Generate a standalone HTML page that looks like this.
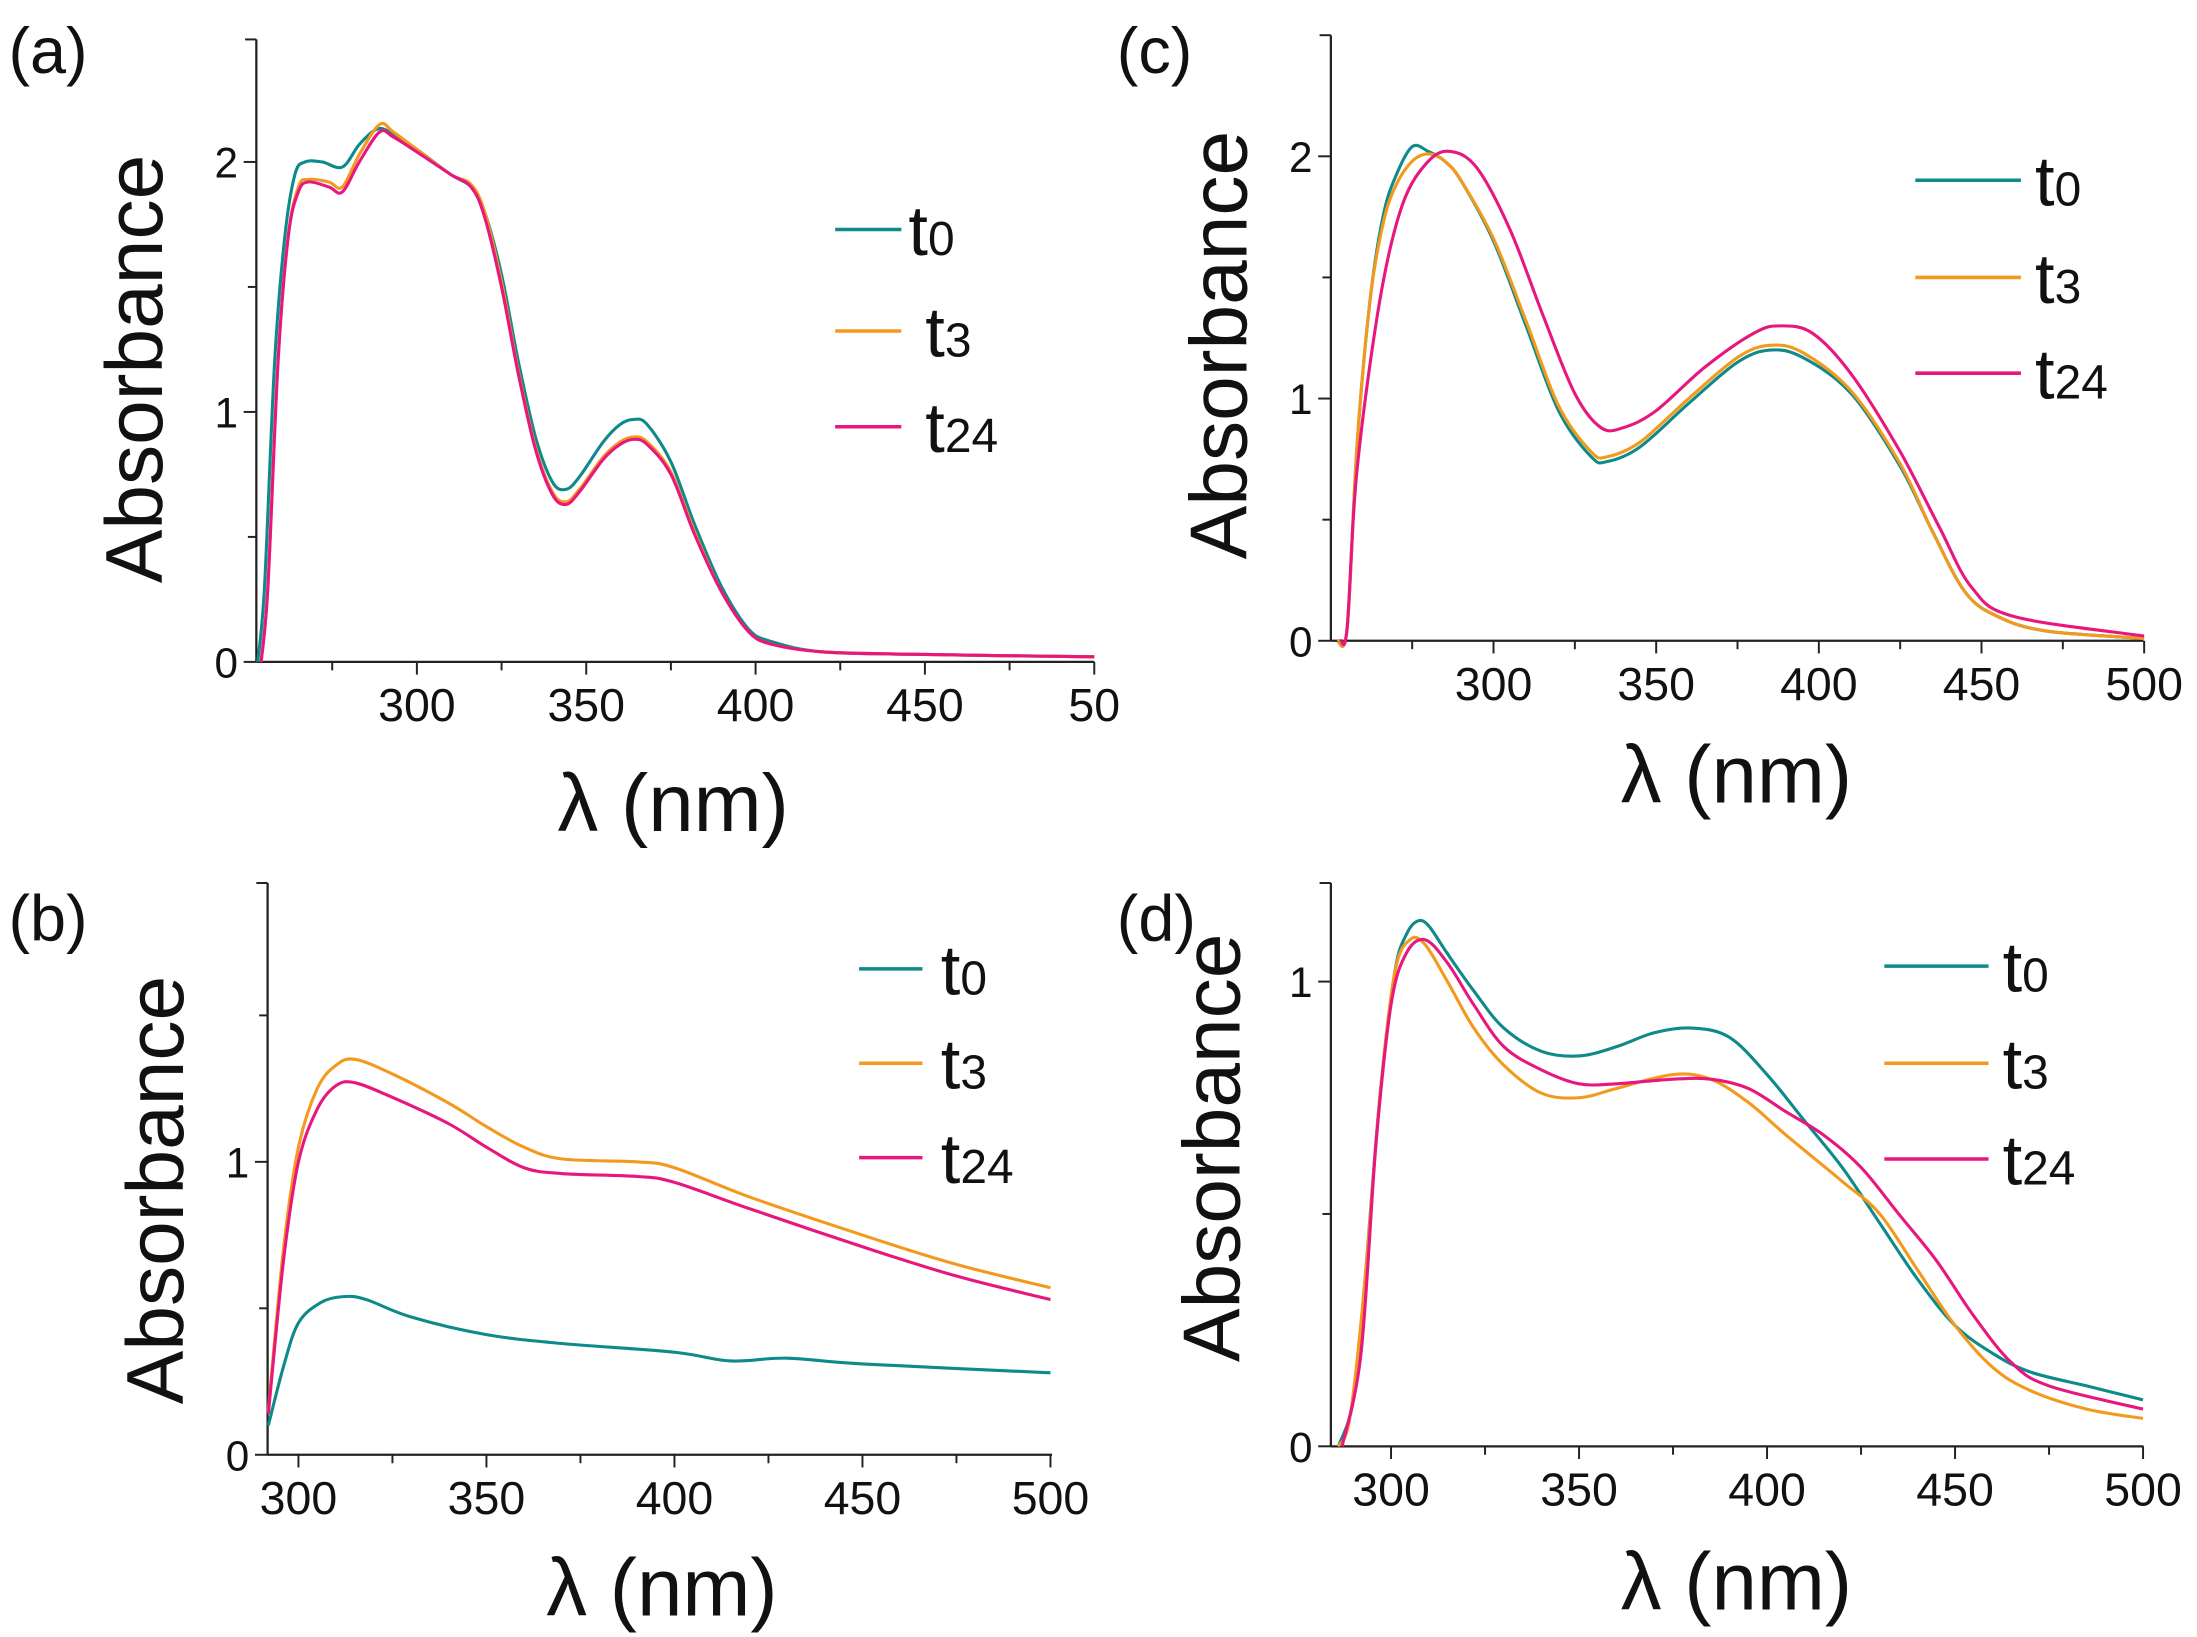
<!DOCTYPE html>
<html><head><meta charset="utf-8">
<style>html,body{margin:0;padding:0;background:#fff}svg{display:block}text{font-family:"Liberation Sans",Arial,sans-serif;fill:#111}</style>
</head><body>
<svg id="s" width="2197" height="1637" viewBox="0 0 1560 1162.4" xmlns="http://www.w3.org/2000/svg"></svg>
<script>
const S=document.getElementById('s');let h='';
const C={t0:'#0e8a8a',t3:'#f39a1e',t24:'#e8177e'};
function panel(p){
 const X=v=>p.ax+(v-p.x0)*p.kx, Y=v=>p.y0-v*p.ky;
 h+=`<line x1="${p.ax}" y1="${p.top}" x2="${p.ax}" y2="${p.y0}" stroke="#222" stroke-width="1.6"/>`;
 h+=`<line x1="${p.ax}" y1="${p.y0}" x2="${p.axr}" y2="${p.y0}" stroke="#222" stroke-width="1.6"/>`;
 for(let v=p.xt0;v<=500;v+=25){const x=X(v);if(x<p.ax+1)continue;const maj=v%50==0;
  h+=`<line x1="${x}" y1="${p.y0}" x2="${x}" y2="${p.y0+(maj?9:6)}" stroke="#222" stroke-width="1.4"/>`;
  if(maj)h+=`<text x="${x}" y="${p.y0+42}" font-size="33" text-anchor="middle">${p.lab500&&v==500?p.lab500:v}</text>`;}
 for(let v=0;v<=p.ymax;v+=0.5){const y=Y(v);if(y<p.top-1)continue;const maj=v%1==0;
  h+=`<line x1="${p.ax}" y1="${y}" x2="${p.ax-(maj?9:6)}" y2="${y}" stroke="#222" stroke-width="1.4"/>`;
  if(maj)h+=`<text x="${p.ax-13}" y="${y+11}" font-size="30" text-anchor="end">${v}</text>`;}
 h+=`<line x1="${p.ax}" y1="${p.top}" x2="${p.ax-8}" y2="${p.top}" stroke="#222" stroke-width="1.4"/>`;
 for(const k of ['t0','t3','t24']){const P=p.d[k].map(([a,b])=>[X(a),Y(b)]);
  let s=`M${P[0][0].toFixed(1)},${P[0][1].toFixed(1)}`;
  for(let i=0;i<P.length-1;i++){const p0=P[Math.max(0,i-1)],p1=P[i],p2=P[i+1],p3=P[Math.min(P.length-1,i+2)];
   const c1=[p1[0]+(p2[0]-p0[0])/6,p1[1]+(p2[1]-p0[1])/6],c2=[p2[0]-(p3[0]-p1[0])/6,p2[1]-(p3[1]-p1[1])/6];
   s+=` C${c1[0].toFixed(1)},${c1[1].toFixed(1)} ${c2[0].toFixed(1)},${c2[1].toFixed(1)} ${p2[0].toFixed(1)},${p2[1].toFixed(1)}`;}
  h+=`<path d="${s}" fill="none" stroke="${C[k]}" stroke-width="2.2" stroke-linejoin="round"/>`;}
 p.leg.forEach((y,i)=>{const k=['t0','t3','t24'][i];
  h+=`<line x1="${p.lx1}" y1="${y}" x2="${p.lx2}" y2="${y}" stroke="${C[k]}" stroke-width="2.5"/>`;
  h+=`<text x="${p.ltx+(i==0?0:p.loff||0)}" y="${y+18}" font-size="50">t<tspan font-size="34">${k.slice(1)}</tspan></text>`;});
 h+=`<text x="${p.tx}" y="${p.ty}" font-size="58" text-anchor="middle">λ (nm)</text>`;
 h+=`<text transform="translate(${p.ayx},${p.ayy}) rotate(-90)" font-size="57" text-anchor="middle">Absorbance</text>`;
 h+=`<text x="${p.px}" y="${p.py}" font-size="46">${p.name}</text>`;
}
panel({name:'(a)',px:6,py:52,ax:182,axr:777,top:28,y0:470,x0:252.6,kx:2.405,ky:177.5,ymax:2.5,xt0:275,lab500:'50',
 tx:478,ty:590,ayx:115,ayy:262,lx1:593,lx2:640,ltx:645,loff:12,leg:[163,235,303],
 d:{t0:[[253,0],[255,0.3],[258,1.2],[261,1.7],[264,1.95],[267,2.0],[272,2.0],[278,1.98],[283,2.07],[288,2.13],[292,2.12],[300,2.05],[310,1.95],[316,1.9],[320,1.8],[325,1.55],[330,1.2],[335,0.9],[340,0.72],[344,0.69],[348,0.74],[355,0.88],[360,0.95],[364,0.97],[368,0.95],[375,0.8],[382,0.55],[390,0.3],[398,0.13],[405,0.08],[420,0.04],[450,0.03],[500,0.02]],
 t3:[[254,0],[256,0.3],[259,1.2],[262,1.7],[265,1.9],[268,1.93],[274,1.92],[278,1.9],[283,2.03],[289,2.15],[293,2.12],[300,2.05],[310,1.95],[316,1.91],[320,1.8],[325,1.52],[330,1.16],[335,0.86],[340,0.68],[344,0.64],[348,0.69],[355,0.82],[360,0.88],[364,0.9],[368,0.88],[375,0.76],[382,0.52],[390,0.28],[398,0.12],[405,0.07],[420,0.04],[450,0.03],[500,0.02]],
 t24:[[254,0],[256,0.3],[259,1.2],[262,1.7],[265,1.88],[268,1.92],[274,1.9],[278,1.88],[283,2.0],[289,2.12],[293,2.1],[300,2.04],[310,1.95],[316,1.9],[320,1.78],[325,1.5],[330,1.15],[335,0.85],[340,0.67],[344,0.63],[348,0.68],[355,0.81],[360,0.87],[364,0.89],[368,0.87],[375,0.75],[382,0.51],[390,0.28],[398,0.12],[405,0.07],[420,0.04],[450,0.03],[500,0.02]]}});
panel({name:'(b)',px:6,py:668,ax:190,axr:747,top:627,y0:1033,x0:291.8,kx:2.67,ky:208,ymax:1.9,xt0:300,
 tx:470,ty:1147,ayx:130,ayy:845,lx1:610,lx2:655,ltx:668,leg:[688,755,822],
 d:{t3:[[292,0.15],[296,0.7],[300,1.05],[305,1.25],[310,1.33],[315,1.35],[325,1.3],[340,1.2],[350,1.12],[360,1.05],[370,1.01],[390,1.0],[400,0.98],[420,0.88],[450,0.75],[475,0.65],[500,0.57]],
 t24:[[292,0.14],[296,0.66],[300,1.0],[305,1.18],[310,1.26],[315,1.27],[325,1.22],[340,1.13],[350,1.05],[360,0.98],[370,0.96],[390,0.95],[400,0.93],[420,0.84],[450,0.71],[475,0.61],[500,0.53]],
 t0:[[292,0.1],[296,0.3],[300,0.45],[306,0.52],[312,0.54],[318,0.53],[330,0.47],[350,0.41],[370,0.38],[400,0.35],[415,0.32],[430,0.33],[450,0.31],[500,0.28]]}});
panel({name:'(c)',px:793,py:52,ax:945,axr:1522,top:25,y0:455,x0:250,kx:2.31,ky:172,ymax:2.4,xt0:250,
 tx:1233,ty:570,ayx:885,ayy:245,lx1:1360,lx2:1435,ltx:1445,leg:[128,197,265],
 d:{t0:[[252,0],[255,0.05],[258,0.8],[262,1.4],[266,1.75],[270,1.92],[275,2.04],[280,2.02],[285,1.98],[290,1.9],[300,1.65],[310,1.3],[320,0.95],[330,0.76],[335,0.74],[345,0.8],[360,0.98],[375,1.15],[385,1.2],[395,1.17],[410,1.02],[425,0.72],[435,0.45],[445,0.2],[455,0.1],[470,0.04],[500,0.01]],
 t3:[[252,0],[255,0.05],[258,0.8],[262,1.4],[266,1.72],[270,1.88],[275,1.98],[280,2.01],[285,1.98],[290,1.9],[300,1.66],[310,1.32],[320,0.97],[330,0.78],[335,0.76],[345,0.82],[360,1.0],[375,1.17],[385,1.22],[395,1.19],[410,1.03],[425,0.73],[435,0.45],[445,0.2],[455,0.1],[470,0.04],[500,0.01]],
 t24:[[253,0],[255,0.05],[258,0.7],[265,1.4],[272,1.8],[280,1.98],[287,2.02],[295,1.95],[305,1.7],[315,1.35],[325,1.02],[333,0.88],[340,0.88],[350,0.95],[365,1.13],[380,1.27],[388,1.3],[398,1.27],[410,1.1],[425,0.78],[437,0.47],[447,0.22],[460,0.1],[500,0.02]]}});
panel({name:'(d)',px:793,py:668,ax:945,axr:1522,top:627,y0:1027,x0:284,kx:2.67,ky:330,ymax:1.2,xt0:300,
 tx:1233,ty:1143,ayx:880,ayy:815,lx1:1338,lx2:1412,ltx:1422,leg:[686,755,823],
 d:{t0:[[286,0],[290,0.1],[293,0.35],[297,0.75],[301,1.02],[304,1.1],[307,1.13],[310,1.12],[315,1.06],[322,0.98],[330,0.9],[340,0.85],[350,0.84],[360,0.86],[370,0.89],[380,0.9],[390,0.88],[400,0.8],[410,0.7],[420,0.6],[430,0.48],[440,0.36],[450,0.26],[460,0.2],[470,0.16],[485,0.13],[500,0.1]],
 t3:[[286,0],[289,0.06],[293,0.35],[297,0.75],[301,1.02],[305,1.09],[309,1.08],[315,1.0],[322,0.9],[330,0.82],[340,0.76],[350,0.75],[360,0.77],[375,0.8],[385,0.79],[395,0.74],[405,0.67],[420,0.57],[430,0.5],[440,0.38],[450,0.26],[460,0.17],[470,0.12],[485,0.08],[500,0.06]],
 t24:[[287,0],[292,0.2],[296,0.65],[300,0.95],[304,1.06],[309,1.09],[315,1.04],[322,0.95],[330,0.86],[340,0.81],[350,0.78],[360,0.78],[375,0.79],[385,0.79],[395,0.77],[405,0.72],[415,0.67],[425,0.6],[435,0.5],[445,0.4],[455,0.28],[465,0.18],[475,0.13],[500,0.08]]}});
S.innerHTML=h;
</script>
</body></html>
